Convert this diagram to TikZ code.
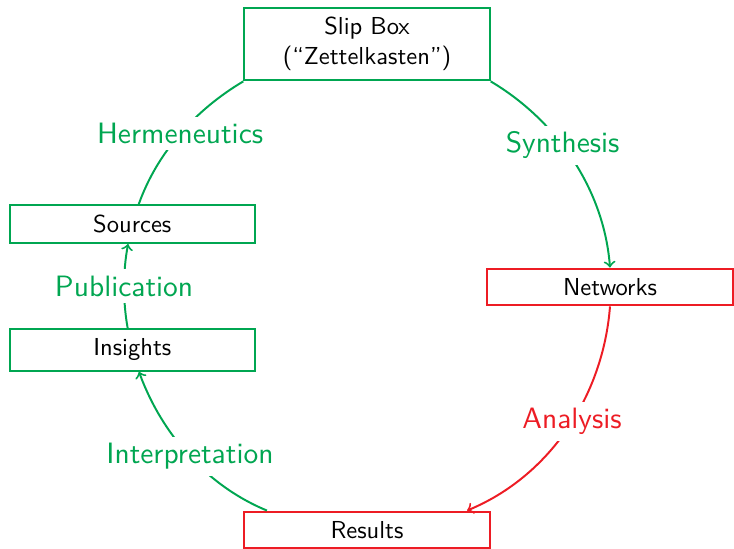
\documentclass[tikz,border=0pt]{standalone}
\usepackage{fontspec}
\newfontfamily\labelfont{lmsans10-regular.otf}
\definecolor{cyclegreen}{RGB}{0,166,81}
\definecolor{cyclered}{RGB}{237,28,36}
\begin{document}
\begin{tikzpicture}[x=0.4075pt, y=0.4075pt,
  stage/.style={draw, thick, rectangle, minimum width=100pt, inner sep=4pt,
                font=\labelfont, align=center},
  greenstage/.style={stage, draw=cyclegreen},
  redstage/.style={stage, draw=cyclered},
  link/.style={thick},
  lab/.style={fill=white, font=\labelfont\large, inner sep=2.5pt}
]
\useasboundingbox (0,0) rectangle (734,548);
\coordinate (c) at (367,261);

% stages placed on a circle of radius 243 around (c)
\node[greenstage] (slip) at ([shift={(90:243)}]c) {Slip Box\\(“Zettelkasten”)};
\node[redstage]   (net)  at ([shift={(0:243)}]c)   {Networks};
\node[redstage]   (res)  at ([shift={(-90:243)}]c) {Results};
\node[greenstage] (ins)  at ([shift={(195:243)}]c) {Insights};
\node[greenstage] (src)  at ([shift={(165:243)}]c) {Sources};

% circular arcs between consecutive stages (clockwise)
\draw[link, cyclegreen, ->] (slip.south east) to[out=-30.7, in=94.4, looseness=0.90]
  node[lab, text=cyclegreen, pos=0.42] {Synthesis} (net.north);
\draw[link, cyclered, ->] (net.south) to[out=-94.4, in=22.5, looseness=0.92]
  node[lab, text=cyclered, pos=0.465] {Analysis} (res.11);
\draw[link, cyclegreen, ->] (res.169) to[out=157.5, in=-69.9, looseness=0.89]
  node[lab, text=cyclegreen, pos=0.49] {Interpretation} (ins.-73);
\draw[link, cyclegreen, ->] (ins.102.5) to[out=100, in=-100.5, looseness=0.855]
  node[lab, text=cyclegreen, pos=0.5] {Publication} (src.-102.8);
\draw[link, cyclegreen] (src.72.9) to[out=70.4, in=-149.3, looseness=0.877]
  node[lab, text=cyclegreen, pos=0.5] {Hermeneutics} (slip.south west);
\end{tikzpicture}
\end{document}
